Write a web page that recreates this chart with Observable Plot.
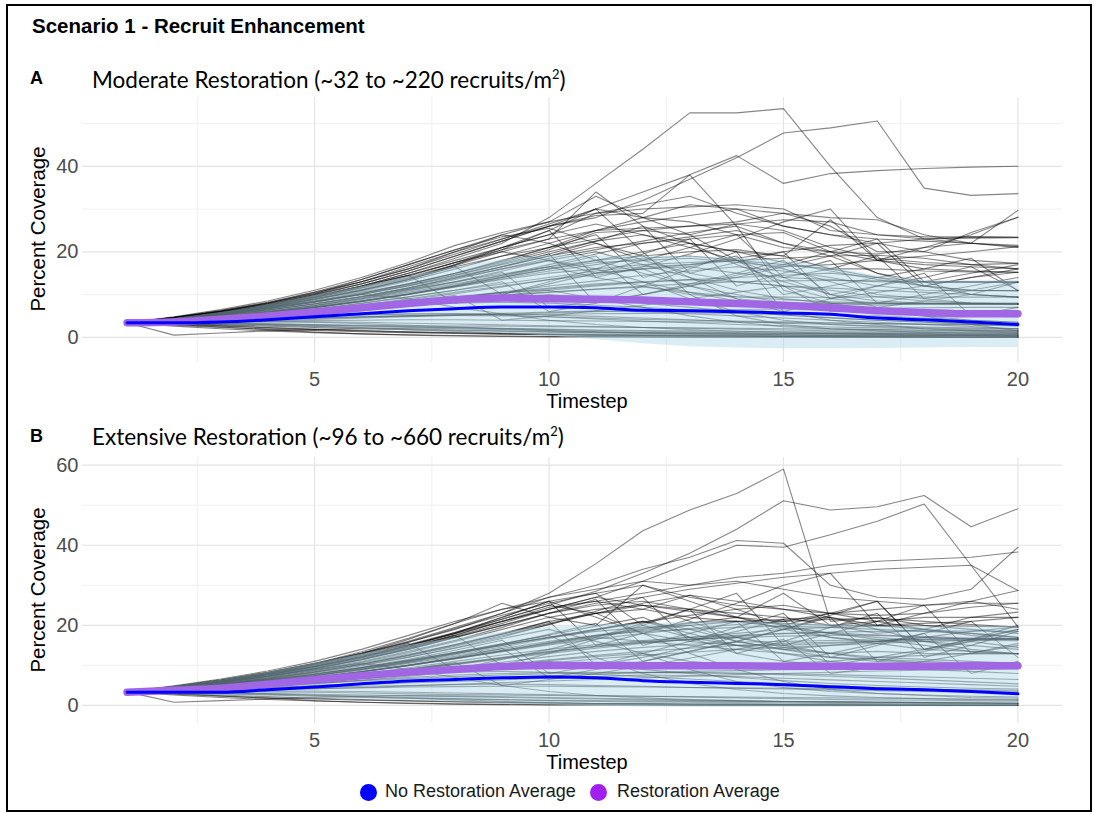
<!DOCTYPE html>
<html>
<head>
<meta charset="utf-8">
<script src="https://cdn.jsdelivr.net/npm/d3@7"></script>
<script src="https://cdn.jsdelivr.net/npm/@observablehq/plot@0.6"></script>
<style>
  html, body { margin: 0; padding: 0; background: #fff; }
  #page { position: relative; width: 1095px; height: 813px; overflow: hidden; font-family: "Liberation Sans", Arial, sans-serif; }
  .frame { position: absolute; left: 6px; top: 4px; width: 1086px; height: 808px; border: 2px solid #000; box-sizing: border-box; }
  .abs { position: absolute; white-space: nowrap; z-index: 5; }
  .title { left: 32px; top: 14px; font-size: 20.5px; font-weight: bold; color: #000; }
  .tag { font-size: 18px; font-weight: bold; color: #000; left: 30px; }
  .sub { font-family: "Lato", "Open Sans", sans-serif; font-size: 22.5px; color: #000; left: 92px; }
  .sub sup { font-size: 13px; vertical-align: 9px; line-height: 0; }
  .ylab { font-size: 20.5px; color: #000; transform: translate(-50%, -50%) rotate(-90deg); }
  .xlab { font-size: 20px; color: #000; transform: translate(-50%, -50%); }
  .plot { position: absolute; left: 10px; z-index: 1; }
  .leg { font-size: 18px; color: #1a1a1a; top: 781px; }
  .dot { width: 17px; height: 17px; border-radius: 50%; top: 783.5px; }
</style>
</head>
<body>
<div id="page">
  <div class="frame"></div>
  <div id="plotA" class="plot" style="top:90px"></div>
  <div id="plotB" class="plot" style="top:450px"></div>
  <div class="abs title">Scenario 1 - Recruit Enhancement</div>
  <div class="abs tag" style="top:68px">A</div>
  <div class="abs sub" style="top:66px">Moderate Restoration (~32 to ~220 recruits/m<sup>2</sup>)</div>
  <div class="abs ylab" style="left:38px; top:229px">Percent Coverage</div>
  <div class="abs xlab" style="left:587px; top:401px">Timestep</div>
  <div class="abs tag" style="top:426px">B</div>
  <div class="abs sub" style="top:423px">Extensive Restoration (~96 to ~660 recruits/m<sup>2</sup>)</div>
  <div class="abs ylab" style="left:38px; top:590px">Percent Coverage</div>
  <div class="abs xlab" style="left:587px; top:762px">Timestep</div>
  <div class="abs dot" style="left:359.5px; background:#0000ff"></div>
  <div class="abs leg" style="left:385px">No Restoration Average</div>
  <div class="abs dot" style="left:589.5px; background:#a020f0"></div>
  <div class="abs leg" style="left:617px">Restoration Average</div>
</div>
<script>
// ---------- data ----------
const timesteps = [1,2,3,4,5,6,7,8,9,10,11,12,13,14,15,16,17,18,19,20];
const xMajorTicks = [5,10,15,20];
const xMinorTicks = [2.5,7.5,12.5,17.5];

// Panel A — Moderate restoration
const yMajorA = [0,20,40];
const yMinorA = [10,30,50];
const restAvgA   = [3.4,3.6,4.2,5.0,5.9,6.9,7.9,8.8,9.2,9.0,8.9,8.7,8.3,7.9,7.5,6.9,6.2,5.8,5.5,5.5];
const noRestAvgA = [3.4,3.4,3.6,4.1,4.8,5.5,6.2,6.7,7.1,7.1,6.9,6.3,6.2,6.0,5.7,5.4,4.5,4.1,3.6,3.0];
const ribbonLowA  = [3.4,3.0,2.8,2.5,2.2,1.8,1.5,1.2,0.9,0.3,-0.6,-1.5,-2.2,-2.5,-2.7,-2.7,-2.6,-2.5,-2.4,-2.4];
const ribbonHighA = [3.4,4.4,5.8,7.6,9.7,11.9,14.1,16.3,18.2,19.2,19.1,19.0,18.9,18.6,18.0,16.4,14.4,13.4,13.2,13.3];
const runsA = [
  [3.4,4.6,6.0,7.5,9.5,12.0,15.0,18.5,22.0,28.0,36.0,44.0,52.5,52.5,53.5,40.0,28.0,23.0,22.0,21.0],
  [3.4,4.5,5.8,7.4,9.8,12.5,15.5,19.0,22.5,26.0,28.0,32.0,37.0,42.0,47.8,49.0,50.6,34.9,33.2,33.6],
  [3.4,4.4,5.6,7.2,9.2,11.5,14.0,17.0,20.5,25.0,30.0,34.0,38.0,42.5,36.0,38.3,39.0,39.5,39.8,40.0],
  [3.4,4.7,6.2,8.0,10.5,13.0,16.5,20.0,24.0,27.0,33.0,28.0,27.0,24.0,21.0,20.0,19.5,21.0,22.0,29.7],
  [3.4,4.3,5.5,7.0,9.0,11.0,13.5,17.0,21.0,24.0,29.0,30.0,30.5,31.0,30.0,25.0,24.0,23.5,23.5,23.4],
  [3.4,4.5,5.9,7.6,10.0,13.0,16.0,20.0,23.0,26.0,28.5,29.0,38.0,26.0,22.0,20.0,18.0,17.0,16.5,16.0],
  [3.4,4.2,5.3,6.8,8.5,10.5,12.5,15.0,18.0,21.0,25.0,25.5,26.0,26.5,27.5,27.0,24.0,23.0,23.2,23.3],
  [3.4,4.6,6.1,8.0,10.2,13.5,17.0,20.5,24.0,22.0,18.0,15.0,12.0,10.0,8.0,7.0,6.0,5.5,5.0,4.8],
  [3.4,4.4,5.7,7.3,9.3,11.8,14.5,17.5,20.5,23.0,34.0,26.0,22.0,20.0,19.0,27.5,18.0,16.0,15.5,15.2],
  [3.4,4.3,5.4,6.9,8.8,11.0,13.5,16.5,19.0,21.0,23.0,25.0,26.0,27.0,29.0,26.0,20.0,20.0,24.5,28.1],
  [3.4,4.5,5.8,7.4,9.4,12.0,15.0,18.0,21.0,24.0,26.5,24.0,21.0,18.0,14.0,10.0,7.0,5.0,3.0,1.5],
  [3.4,4.2,5.2,6.6,8.2,10.2,12.5,15.0,17.5,20.5,24.5,25.0,24.0,26.5,25.0,21.0,18.5,17.5,17.0,17.3],
  [3.4,4.5,6.0,7.8,10.0,12.5,15.5,19.0,22.5,26.0,30.0,20.0,10.0,5.0,3.0,2.0,1.5,1.2,1.0,0.9],
  [3.4,4.1,5.1,6.3,7.8,9.5,11.5,13.8,16.0,18.5,20.5,22.5,24.5,26.0,11.0,8.0,6.0,5.0,4.0,3.5],
  [3.4,4.3,5.5,7.0,8.8,10.8,13.2,16.0,19.0,22.0,25.0,28.0,31.0,30.0,29.0,28.0,27.5,24.0,22.0,21.2],
  [3.4,4.0,4.8,5.8,7.0,8.5,10.2,12.2,14.5,17.0,19.5,22.0,23.5,25.0,22.0,19.0,15.0,13.0,10.0,9.4],
  [3.4,4.0,4.8,5.8,7.0,8.5,10.2,12.0,14.0,16.0,17.5,18.0,18.5,17.5,16.5,17.0,18.0,19.0,20.0,21.2],
  [3.4,3.9,4.6,5.5,6.6,8.0,9.5,11.0,12.5,14.0,15.5,16.5,17.0,18.0,18.5,19.0,19.2,18.5,17.0,16.0],
  [3.4,4.1,5.0,6.0,7.4,9.0,11.0,13.0,15.5,18.0,20.0,17.0,14.0,11.0,9.0,8.0,7.5,7.8,7.8,7.8],
  [3.4,3.8,4.4,5.2,6.2,7.4,8.8,10.2,11.8,13.5,15.0,16.0,16.5,15.0,14.0,13.5,13.0,12.8,12.9,12.9],
  [3.4,4.0,4.9,5.9,7.2,8.8,10.5,12.5,14.5,16.5,14.0,12.0,10.0,9.5,9.4,9.3,9.5,9.4,9.4,9.4],
  [3.4,3.7,4.2,4.9,5.7,6.7,7.9,9.2,10.6,12.0,13.2,14.5,15.5,16.5,15.5,14.0,12.0,11.0,10.9,10.9],
  [3.4,4.2,5.2,6.4,7.9,9.6,11.6,14.0,16.5,19.0,21.0,22.0,23.0,24.0,24.5,20.0,15.0,12.0,11.0,10.9],
  [3.4,3.8,4.5,5.3,6.3,7.5,9.0,10.5,12.0,13.5,14.5,16.0,12.0,9.0,8.0,7.8,7.8,7.8,7.8,7.8],
  [3.4,4.1,5.0,6.1,7.5,9.2,11.2,13.5,16.0,18.0,16.0,13.0,10.5,8.5,8.0,8.0,8.0,8.0,8.0,8.0],
  [3.4,3.9,4.7,5.7,6.9,8.3,10.0,11.8,13.7,15.5,17.0,18.5,19.0,18.0,17.0,16.0,16.0,15.5,15.3,15.2],
  [3.4,4.3,5.3,6.6,8.2,10.0,12.0,14.2,16.5,19.0,22.0,19.0,14.0,9.0,6.0,4.0,3.0,2.0,1.5,1.2],
  [3.4,3.6,4.0,4.6,5.3,6.2,7.3,8.5,9.8,11.0,12.0,12.8,13.5,14.0,14.5,15.0,14.0,13.0,13.0,12.9],
  [3.4,4.0,4.8,5.8,7.0,8.4,10.0,11.8,13.5,15.0,16.0,17.0,17.5,18.0,16.0,13.0,10.0,9.0,8.0,7.8],
  [3.4,3.8,4.3,5.0,5.8,6.8,8.0,9.3,10.5,11.5,12.5,13.0,13.5,13.0,12.0,11.0,9.5,8.5,8.0,7.8],
  [3.4,3.0,2.6,2.2,1.8,1.5,1.2,1.0,0.8,0.6,0.5,0.4,0.3,0.3,0.2,0.2,0.2,0.1,0.1,0.1],
  [3.4,0.5,1.0,1.5,1.8,2.0,2.2,2.0,1.8,1.5,1.2,1.0,0.8,0.7,0.6,0.5,0.5,0.4,0.4,0.4],
  [3.4,3.2,3.0,2.8,2.5,2.2,1.8,1.4,1.0,0.7,0.5,0.4,0.3,0.2,0.2,0.1,0.1,0.1,0.0,0.0],
  [3.4,3.5,3.6,3.7,3.5,3.2,2.8,2.4,2.0,1.6,1.3,1.1,1.0,0.9,0.8,0.8,0.7,0.7,0.6,0.6],
  [3.4,3.8,4.2,4.6,5.0,5.3,5.5,5.5,5.2,4.8,4.3,3.8,3.4,3.0,2.7,2.4,2.2,2.0,1.8,1.6],
  [3.4,3.3,3.1,2.9,2.6,2.3,2.0,1.7,1.5,1.3,1.2,1.1,1.0,1.0,0.9,0.9,0.8,0.8,0.8,0.8],
  [3.4,3.6,3.9,4.2,4.5,4.8,5.0,5.1,5.0,4.8,4.5,4.2,4.0,3.8,3.6,3.4,3.2,3.0,2.9,2.8],
  [3.4,3.0,2.4,1.8,1.2,0.8,0.5,0.3,0.2,0.1,0.1,0.1,0.0,0.0,0.0,0.0,0.0,0.0,0.0,0.0],
  [3.4,3.9,4.5,5.2,6.0,6.8,7.5,8.0,8.2,8.0,7.5,7.0,6.4,5.8,5.2,4.6,4.0,3.5,3.0,2.6],
  [3.4,3.5,3.4,3.2,3.0,2.8,2.7,2.6,2.6,2.5,2.4,2.3,2.2,2.1,2.0,1.9,1.8,1.7,1.6,1.5],
  [3.4,4.0,4.7,5.5,6.4,7.4,8.5,9.5,10.5,11.0,9.0,7.0,5.0,3.5,2.5,2.0,1.8,1.6,1.5,1.4],
  [3.4,3.7,4.0,4.3,4.6,4.8,5.0,5.2,5.3,5.4,5.5,5.6,5.7,5.6,5.4,5.2,5.0,4.5,4.0,3.5],
  [3.4,2.8,2.3,1.9,1.6,1.3,1.1,0.9,0.7,0.6,0.5,0.5,0.4,0.4,0.3,0.3,0.3,0.3,0.3,0.3],
  [3.4,4.4,5.6,7.0,8.5,10.0,9.0,7.0,5.5,4.0,3.0,2.3,1.8,1.4,1.2,1.0,0.9,0.8,0.7,0.6],
  [3.4,3.9,4.6,5.4,6.3,7.3,8.3,9.3,10.3,11.3,12.2,13.0,9.0,6.0,4.0,3.0,2.5,2.2,2.0,1.9],
  [3.4,3.4,3.3,3.1,2.9,2.7,2.5,2.3,2.1,1.9,1.7,1.6,1.5,1.4,1.3,1.2,1.1,1.1,1.0,1.0],
  [3.4,4.8,6.5,8.5,11.0,14.0,17.5,21.5,24.5,27.0,29.0,31.0,33.0,29.0,26.0,24.0,23.0,22.5,22.0,21.5],
  [3.4,4.7,6.3,8.2,10.6,13.5,17.0,20.5,23.5,25.5,22.0,18.0,15.0,13.0,12.0,11.5,11.0,10.5,10.0,9.4],
  [3.4,4.6,6.1,8.0,10.3,13.0,16.0,19.5,23.0,26.5,30.0,28.0,24.0,18.0,12.0,9.0,8.0,7.8,7.8,7.8],
  [3.4,4.4,5.7,7.2,9.0,11.2,13.8,16.8,20.0,23.0,25.0,27.0,28.5,30.0,26.0,24.0,22.0,20.0,18.0,17.3],
  [3.4,3.6,3.7,3.8,3.9,4.0,4.1,4.1,4.0,3.9,3.8,3.7,3.6,3.5,3.4,3.3,3.2,3.1,3.0,2.9],
  [3.4,3.2,2.9,2.6,2.3,2.0,1.8,1.6,1.4,1.2,1.0,0.9,0.8,0.7,0.6,0.5,0.5,0.4,0.4,0.3],
  [3.4,3.7,4.1,4.5,4.9,5.2,5.4,5.5,5.4,5.2,4.9,4.5,4.1,3.7,3.3,3.0,2.7,2.4,2.2,2.0],
  [3.4,3.1,2.7,2.3,1.9,1.6,1.3,1.1,0.9,0.8,0.7,0.6,0.5,0.5,0.4,0.4,0.3,0.3,0.3,0.2],
  [3.4,4.0,4.6,5.4,6.2,7.1,8.0,8.9,9.8,10.6,11.3,12.0,12.5,13.0,13.2,13.3,13.2,13.0,12.9,12.9],
  [3.4,3.9,4.5,5.2,6.0,6.9,7.8,8.8,9.7,10.5,11.2,11.8,10.5,9.5,8.8,8.3,8.0,7.9,7.8,7.8],
  [3.4,4.2,5.2,6.4,7.8,9.4,11.2,13.0,14.8,16.5,18.0,19.0,20.0,20.5,19.0,16.0,14.0,12.0,10.0,9.4],
  [3.4,3.5,3.7,3.9,4.2,4.5,4.8,5.1,5.4,5.7,6.0,6.2,6.4,6.5,6.6,6.7,6.8,6.9,7.0,7.0],
  [3.4,3.3,3.2,3.0,2.8,2.6,2.4,2.2,2.0,1.8,1.6,1.4,1.2,1.1,1.0,0.9,0.8,0.7,0.6,0.5],
  [3.4,4.1,4.9,5.9,7.1,8.5,10.1,12.0,14.0,16.0,18.0,20.0,22.0,17.0,13.0,10.0,8.5,8.0,7.8,7.8],
  [3.4,3.8,4.3,4.9,5.6,6.4,7.3,8.2,9.1,10.0,9.0,8.0,7.0,6.0,5.2,4.5,4.0,3.6,3.2,3.0],
  [3.4,2.6,2.0,1.5,1.1,0.8,0.6,0.4,0.3,0.2,0.2,0.1,0.1,0.1,0.1,0.1,0.0,0.0,0.0,0.0],
  [3.4,4.5,5.9,7.6,9.6,11.9,14.5,17.5,20.0,18.0,15.0,16.0,17.0,18.5,20.0,21.5,22.0,23.0,23.5,23.4],
  [3.4,3.6,3.8,4.1,4.4,4.7,5.0,5.3,5.6,5.9,6.2,6.0,5.5,5.0,4.5,4.0,3.5,3.0,2.5,2.0],
  [3.4,4.3,5.4,6.7,8.3,10.1,12.2,14.6,17.2,20.0,22.5,24.0,22.0,20.0,17.5,15.5,13.5,12.0,11.0,10.9],
  [3.4,3.4,3.5,3.6,3.6,3.5,3.3,3.1,2.9,2.7,2.5,2.3,2.1,1.9,1.7,1.5,1.4,1.3,1.2,1.1],
  [3.4,4.2,5.3,6.6,8.2,10.0,12.0,14.5,17.0,19.5,8.0,12.0,16.0,20.0,6.0,9.0,12.0,15.0,5.0,7.0],
  [3.4,4.4,5.6,7.1,8.9,11.0,13.5,16.5,10.0,13.0,16.0,19.5,23.0,12.0,15.0,18.0,8.0,10.0,12.0,14.0],
  [3.4,3.9,4.6,5.5,6.6,7.9,9.4,11.0,13.0,6.0,8.0,10.0,12.5,15.0,18.0,10.0,12.0,14.0,16.5,11.0],
  [3.4,4.6,6.0,7.7,9.7,12.0,14.5,8.0,10.0,12.5,15.0,18.0,21.0,24.0,14.0,16.0,19.0,9.0,11.0,13.0],
  [3.4,4.0,4.8,5.8,7.0,8.4,10.0,12.0,14.2,16.5,19.0,10.0,12.0,14.5,17.0,20.0,23.0,13.0,15.0,17.0],
  [3.4,4.3,5.4,6.8,8.4,10.3,12.5,15.0,17.8,21.0,24.0,14.0,16.5,19.0,10.0,12.0,14.0,16.0,18.5,10.9],
  [3.4,3.8,4.4,5.2,6.1,7.2,8.4,9.8,4.0,5.0,6.2,7.5,9.0,10.5,12.0,6.0,7.0,8.5,10.0,12.9],
  [3.4,4.5,5.8,7.4,9.3,11.6,14.3,17.5,21.0,25.0,14.0,16.5,19.5,23.0,27.0,30.0,18.0,21.0,24.0,28.1],
  [3.4,4.1,5.0,6.1,7.4,9.0,10.8,12.9,15.2,7.0,8.5,10.0,12.0,14.0,16.5,19.0,22.0,12.0,14.0,16.0],
  [3.4,4.2,5.2,6.4,7.8,9.5,11.5,13.8,16.5,19.5,22.5,26.0,15.0,17.5,20.0,9.0,10.5,12.0,14.0,15.2]
];

// Panel B — Extensive restoration
const yMajorB = [0,20,40,60];
const yMinorB = [10,30,50];
const restAvgB   = [3.3,3.8,4.3,5.3,6.4,7.4,8.3,9.0,9.7,10.0,10.0,9.9,9.9,9.9,9.8,9.8,9.8,9.8,9.9,9.9];
const noRestAvgB = [3.3,3.3,3.3,3.9,4.6,5.4,6.1,6.5,6.9,7.1,6.9,6.2,5.8,5.5,5.2,4.7,4.2,3.9,3.5,2.9];
const ribbonLowB  = [3.3,2.8,2.4,2.1,1.8,1.5,1.2,0.8,0.4,0.1,-0.2,-0.4,-0.5,-0.5,-0.5,-0.5,-0.4,-0.4,-0.4,-0.4];
const ribbonHighB = [3.4,4.8,6.3,8.2,10.5,12.8,15.0,16.8,18.3,19.5,20.0,20.4,20.8,20.8,20.6,20.2,19.8,19.6,19.6,19.7];
const runsB = [
  [3.4,4.8,6.4,8.3,10.5,13.0,15.8,19.0,23.0,28.0,35.4,43.6,48.8,52.9,59.0,21.0,22.0,20.0,19.0,18.0],
  [3.4,4.6,6.1,7.9,10.0,12.5,15.2,18.3,21.6,25.0,28.5,33.0,38.0,44.0,51.1,48.8,49.6,52.4,44.6,49.1],
  [3.4,4.5,6.0,7.8,9.8,12.3,15.0,18.0,21.0,24.0,27.0,31.0,35.5,40.0,39.5,42.6,46.0,50.3,35.0,19.6],
  [3.4,4.7,6.3,8.2,10.4,13.0,16.0,19.5,23.0,27.0,30.0,34.0,37.0,41.2,40.5,30.0,27.0,26.5,29.0,39.5],
  [3.4,4.4,5.8,7.5,9.5,11.8,14.5,17.5,21.0,24.0,26.0,28.0,30.0,32.0,33.0,35.0,36.0,36.5,37.0,38.3],
  [3.4,4.6,6.2,8.0,10.3,13.0,16.5,20.5,25.5,22.0,20.0,30.0,27.0,25.0,24.0,23.0,22.5,23.0,24.5,25.5],
  [3.4,4.3,5.6,7.2,9.1,11.4,14.0,17.0,20.0,23.0,25.0,26.0,24.0,22.0,21.0,23.0,24.0,25.0,26.0,28.7],
  [3.4,4.5,5.9,7.6,9.6,12.0,14.8,18.0,21.5,25.0,23.0,18.0,13.0,9.0,6.0,4.0,3.0,2.5,2.0,1.8],
  [3.4,4.2,5.4,6.9,8.7,10.8,13.2,16.0,19.0,22.0,24.0,25.0,23.5,22.0,28.0,20.0,18.0,19.0,22.0,23.3],
  [3.4,4.4,5.7,7.3,9.2,11.5,14.2,17.2,20.5,24.0,27.0,25.0,24.0,23.0,22.0,20.0,21.0,22.0,22.0,22.0],
  [3.4,4.1,5.2,6.6,8.3,10.3,12.6,15.2,18.0,21.0,23.0,24.0,27.5,24.0,20.0,17.0,16.0,17.0,16.6,16.6],
  [3.4,4.6,6.0,7.7,9.8,12.2,15.0,18.0,22.0,26.0,28.0,20.0,17.0,15.0,14.0,15.0,16.0,17.0,18.5,19.6],
  [3.4,4.0,4.9,6.0,7.3,8.8,10.5,12.3,14.2,16.0,17.5,18.5,19.0,19.5,19.8,19.5,19.0,18.5,18.0,17.0],
  [3.4,3.9,4.6,5.5,6.6,7.9,9.4,11.0,12.6,14.0,15.2,16.2,17.0,17.5,18.0,18.2,17.5,17.0,16.5,16.6],
  [3.4,4.2,5.2,6.4,7.8,9.4,11.2,13.2,15.2,17.0,18.5,19.5,20.0,16.0,14.0,13.0,13.5,13.0,12.9,12.9],
  [3.4,3.8,4.4,5.2,6.2,7.4,8.8,10.3,11.8,13.3,14.6,15.7,16.5,17.0,17.3,17.5,17.6,17.2,16.8,16.6],
  [3.4,4.1,5.0,6.1,7.5,9.1,10.9,12.9,15.0,17.0,19.0,21.0,19.0,16.0,14.0,12.0,11.0,10.5,10.0,9.6],
  [3.4,3.7,4.2,4.9,5.8,6.8,8.0,9.4,10.8,12.2,13.5,14.5,15.3,15.8,16.0,16.2,16.4,16.5,16.6,16.6],
  [3.4,4.3,5.4,6.7,8.3,10.1,12.1,14.3,16.7,19.0,16.0,13.0,11.0,10.0,10.5,11.0,12.0,12.5,13.0,12.9],
  [3.4,3.9,4.7,5.7,6.9,8.3,9.9,11.7,13.6,15.5,17.2,18.7,20.0,21.0,21.5,22.0,19.0,16.0,14.0,12.9],
  [3.4,4.0,4.8,5.8,7.0,8.4,10.0,11.7,13.5,15.3,17.0,16.0,15.0,14.0,13.0,12.0,11.5,11.0,10.5,10.0],
  [3.4,3.8,4.5,5.4,6.4,7.6,9.0,10.5,12.0,13.5,14.8,15.8,16.5,17.0,15.0,13.0,11.5,10.5,10.0,9.6],
  [3.4,4.2,5.1,6.2,7.6,9.2,11.0,13.0,15.0,17.0,19.0,21.0,18.0,15.0,13.0,11.0,10.0,9.0,8.5,8.0],
  [3.4,3.7,4.1,4.7,5.4,6.3,7.3,8.4,9.5,10.6,11.6,12.5,13.3,14.0,14.5,15.0,15.5,16.0,16.3,16.6],
  [3.4,4.0,4.8,5.8,7.0,8.4,10.0,11.8,13.7,15.6,17.4,19.0,20.5,22.0,20.0,18.0,16.5,15.0,13.5,12.9],
  [3.4,4.3,5.3,6.5,7.9,9.5,11.3,13.3,15.4,17.6,19.8,22.0,17.0,13.0,11.0,10.0,9.8,9.7,9.6,9.6],
  [3.4,3.9,4.6,5.5,6.5,7.7,9.0,10.4,11.9,13.4,14.8,16.0,17.0,18.0,19.0,19.5,19.8,19.9,19.8,19.6],
  [3.4,4.1,4.9,5.9,7.1,8.5,10.0,11.7,13.4,15.1,16.6,18.0,19.2,20.2,21.0,21.5,21.8,21.0,20.2,19.6],
  [3.4,3.0,2.6,2.2,1.8,1.5,1.2,1.0,0.8,0.6,0.5,0.4,0.3,0.3,0.2,0.2,0.2,0.1,0.1,0.1],
  [3.4,0.8,1.2,1.6,2.0,2.3,2.5,2.4,2.2,2.0,1.8,1.6,1.4,1.2,1.0,0.9,0.8,0.7,0.6,0.5],
  [3.4,3.2,3.0,2.8,2.5,2.2,1.8,1.4,1.0,0.7,0.5,0.4,0.3,0.2,0.2,0.1,0.1,0.1,0.0,0.0],
  [3.4,3.6,3.9,4.2,4.5,4.8,5.0,5.2,5.3,5.2,5.0,4.8,4.5,4.3,4.1,3.9,3.7,3.5,3.3,3.1],
  [3.4,4.0,4.7,5.5,6.3,7.1,7.8,8.3,8.5,8.3,7.8,7.2,6.6,6.0,5.4,4.9,4.5,4.1,3.8,3.5],
  [3.4,3.3,3.1,2.9,2.6,2.3,2.0,1.7,1.5,1.3,1.2,1.1,1.0,1.0,0.9,0.9,0.8,0.8,0.8,0.8],
  [3.4,3.0,2.4,1.8,1.2,0.8,0.5,0.3,0.2,0.1,0.1,0.1,0.0,0.0,0.0,0.0,0.0,0.0,0.0,0.0],
  [3.4,3.8,4.3,4.9,5.6,6.3,7.0,7.6,8.0,8.2,8.3,8.3,8.2,8.0,7.7,7.3,6.9,6.4,5.9,5.4],
  [3.4,4.5,5.8,7.3,9.0,10.5,9.0,7.0,5.0,3.5,2.5,1.9,1.5,1.2,1.0,0.9,0.8,0.7,0.6,0.5],
  [3.4,3.5,3.5,3.4,3.3,3.1,2.9,2.7,2.6,2.5,2.4,2.3,2.2,2.1,2.0,1.9,1.8,1.7,1.6,1.5],
  [3.4,3.9,4.5,5.2,6.0,6.9,7.9,9.0,10.1,11.2,12.2,13.0,9.0,6.0,4.5,3.5,3.0,2.6,2.3,2.1],
  [3.4,2.8,2.3,1.9,1.6,1.3,1.1,0.9,0.7,0.6,0.5,0.5,0.4,0.4,0.3,0.3,0.3,0.3,0.3,0.3],
  [3.4,3.7,4.1,4.5,5.0,5.5,6.0,6.5,7.0,7.4,7.8,8.2,8.5,8.7,8.9,9.0,9.2,9.3,9.4,9.6],
  [3.4,4.2,5.2,6.4,7.8,9.4,11.2,13.2,15.4,17.5,12.0,8.0,5.5,4.0,3.0,2.4,2.0,1.7,1.5,1.3],
  [3.4,4.9,6.6,8.6,11.0,14.0,17.5,21.0,24.0,27.0,29.0,31.0,30.0,31.0,29.0,27.0,26.0,25.0,25.5,25.5],
  [3.4,4.7,6.3,8.2,10.5,13.4,16.8,20.5,24.0,26.0,22.0,18.0,16.0,15.0,15.0,15.5,16.0,16.5,16.6,16.6],
  [3.4,4.6,6.1,8.0,10.2,12.8,15.8,19.2,22.5,25.5,28.0,30.0,26.0,22.0,19.0,17.0,15.5,14.0,13.5,12.9],
  [3.4,4.4,5.7,7.3,9.2,11.4,14.0,17.0,20.0,23.0,25.5,27.0,29.0,30.5,32.0,33.0,34.0,34.5,35.0,28.7],
  [3.4,3.6,3.8,4.0,4.2,4.4,4.6,4.7,4.8,4.8,4.7,4.6,4.5,4.4,4.3,4.2,4.1,4.0,3.9,3.8],
  [3.4,3.2,2.9,2.6,2.3,2.0,1.8,1.6,1.4,1.2,1.0,0.9,0.8,0.7,0.6,0.5,0.5,0.4,0.4,0.3],
  [3.4,3.8,4.3,4.9,5.5,6.1,6.7,7.2,7.6,7.9,8.1,8.2,8.2,8.1,7.9,7.7,7.4,7.1,6.8,6.5],
  [3.4,4.1,4.9,5.9,7.1,8.5,10.1,11.9,13.8,15.7,17.5,19.2,20.7,21.0,19.5,18.0,17.0,16.0,15.0,14.0],
  [3.4,4.0,4.7,5.6,6.6,7.7,8.9,10.2,11.6,13.0,14.3,15.5,16.5,17.3,17.9,18.3,18.5,18.6,18.6,18.5],
  [3.4,3.9,4.5,5.2,6.0,6.9,7.9,9.0,10.2,11.4,12.5,13.5,14.3,15.0,15.5,15.8,16.0,16.1,16.2,16.2],
  [3.4,4.3,5.4,6.8,8.4,10.3,12.4,14.8,17.4,20.2,23.0,25.0,21.0,17.0,14.5,13.0,12.0,11.5,11.0,10.5],
  [3.4,3.5,3.7,3.9,4.2,4.5,4.9,5.3,5.7,6.1,6.5,6.9,7.3,7.7,8.0,8.3,8.6,8.8,9.0,9.2],
  [3.4,3.3,3.2,3.0,2.8,2.6,2.4,2.2,2.0,1.8,1.6,1.4,1.2,1.1,1.0,0.9,0.8,0.7,0.6,0.5],
  [3.4,4.2,5.1,6.2,7.5,9.0,10.7,12.6,14.6,16.7,18.8,20.8,22.5,24.0,25.0,23.0,21.0,19.0,17.5,16.6],
  [3.4,3.8,4.4,5.1,5.9,6.8,7.8,8.9,10.0,11.0,10.0,9.0,8.0,7.0,6.2,5.5,5.0,4.6,4.3,4.1],
  [3.4,2.6,2.0,1.5,1.1,0.8,0.6,0.4,0.3,0.2,0.2,0.1,0.1,0.1,0.1,0.1,0.0,0.0,0.0,0.0],
  [3.4,4.5,5.9,7.6,9.7,12.0,14.6,17.6,21.0,24.5,26.0,24.0,22.0,21.0,20.5,20.0,20.0,20.5,21.0,22.0],
  [3.4,3.7,4.0,4.4,4.8,5.2,5.6,6.0,6.4,6.8,7.2,7.6,7.5,7.2,6.8,6.4,6.0,5.6,5.2,4.8],
  [3.4,4.4,5.6,7.0,8.7,10.6,12.8,15.2,17.8,20.5,23.0,25.5,27.5,26.0,24.0,22.0,20.0,19.0,18.0,17.0],
  [3.4,3.4,3.5,3.6,3.6,3.5,3.3,3.1,2.9,2.7,2.5,2.3,2.1,1.9,1.7,1.5,1.4,1.3,1.2,1.1],
  [3.4,4.3,5.4,6.8,8.4,10.3,12.5,15.0,17.8,21.0,10.0,13.0,16.0,19.5,23.0,12.0,15.0,18.0,8.0,11.0],
  [3.4,4.5,5.8,7.4,9.3,11.6,14.3,17.5,10.0,13.0,16.5,20.0,24.0,13.0,16.0,19.5,23.0,12.0,15.0,18.5],
  [3.4,4.0,4.8,5.8,7.0,8.4,10.0,12.0,14.2,7.0,9.0,11.0,13.5,16.0,19.0,22.0,11.0,13.5,16.0,19.0],
  [3.4,4.7,6.2,8.0,10.1,12.6,15.5,9.0,11.5,14.0,17.0,20.5,24.0,28.0,15.0,18.0,21.0,25.0,13.0,15.5],
  [3.4,4.1,5.0,6.1,7.4,9.0,10.8,12.9,15.2,17.8,20.5,11.0,13.5,16.0,19.0,22.5,26.0,14.0,16.5,20.0],
  [3.4,4.4,5.6,7.1,8.9,11.0,13.5,16.3,19.5,23.0,26.5,15.0,18.0,21.0,11.0,13.0,15.5,18.0,21.0,12.0],
  [3.4,3.9,4.6,5.5,6.5,7.7,9.1,10.7,5.0,6.5,8.0,9.8,11.8,14.0,16.5,8.0,9.5,11.0,13.0,15.0],
  [3.4,4.6,6.0,7.7,9.7,12.1,14.9,18.2,22.0,26.0,15.0,18.0,21.5,25.5,30.0,33.0,20.0,23.0,26.0,24.0],
  [3.4,4.2,5.2,6.4,7.8,9.5,11.5,13.8,16.3,8.0,10.0,12.0,14.5,17.0,20.0,23.0,26.0,14.0,16.5,19.0],
  [3.4,4.3,5.3,6.6,8.1,9.9,12.0,14.4,17.1,20.2,23.5,27.0,16.0,18.5,21.5,10.0,12.0,14.0,16.0,14.5]
];

// ---------- drawing ----------
function panel(runs, rest, noRest, lo, hi, yDomain, yMajor, yMinor, height, innerH) {
  const lines = runs.flatMap((r, i) => r.map((v, j) => ({id: i, t: timesteps[j], v})));
  const band = timesteps.map((t, j) => ({t, lo: lo[j], hi: hi[j]}));
  const restData = timesteps.map((t, j) => ({t, v: rest[j]}));
  const noRestData = timesteps.map((t, j) => ({t, v: noRest[j]}));
  return Plot.plot({
    width: 1075, height,
    marginLeft: 72, marginRight: 23, marginTop: 7, marginBottom: height - 7 - innerH,
    style: {fontFamily: '"Liberation Sans", Arial, sans-serif', fontSize: "20px", color: "#4d4d4d", background: "transparent", overflow: "visible"},
    x: {domain: [0.05, 20.95], ticks: xMajorTicks, tickSize: 0, tickPadding: 9, label: null, tickFormat: d => String(d)},
    y: {domain: yDomain, ticks: yMajor, tickSize: 0, tickPadding: 4, label: null, tickFormat: d => String(d)},
    marks: [
      Plot.ruleX(xMinorTicks, {stroke: "#ececec", strokeWidth: 0.8}),
      Plot.ruleY(yMinor, {stroke: "#ececec", strokeWidth: 0.8}),
      Plot.ruleX(xMajorTicks, {stroke: "#e4e4e4", strokeWidth: 1.2}),
      Plot.ruleY(yMajor, {stroke: "#e4e4e4", strokeWidth: 1.2}),
      Plot.line(lines, {x: "t", y: "v", z: "id", stroke: "#000", strokeOpacity: 0.48, strokeWidth: 1.1}),
      Plot.areaY(band, {x: "t", y1: "lo", y2: "hi", fill: "#add8e6", fillOpacity: 0.45}),
      Plot.line(restData, {x: "t", y: "v", stroke: "#a066e4", strokeWidth: 7.5, curve: "monotone-x"}),
      Plot.line(noRestData, {x: "t", y: "v", stroke: "#0000ff", strokeWidth: 3, curve: "monotone-x"})
    ]
  });
}

document.getElementById("plotA").append(
  panel(runsA, restAvgA, noRestAvgA, ribbonLowA, ribbonHighA, [-5.9, 56.1], yMajorA, yMinorA, 320, 265)
);
document.getElementById("plotB").append(
  panel(runsB, restAvgB, noRestAvgB, ribbonLowB, ribbonHighB, [-4.5, 61.9], yMajorB, yMinorB, 321, 266)
);
</script>
</body>
</html>
